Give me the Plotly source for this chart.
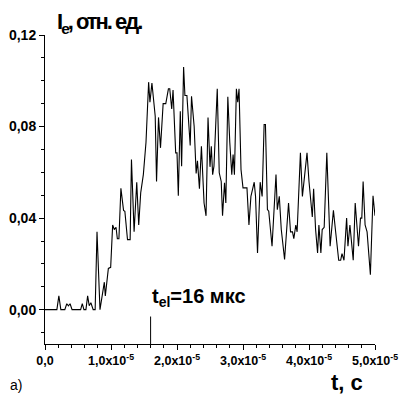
import plotly.graph_objects as go

# time, microseconds
t_us = [0, 1.8, 2.1, 2.4, 3.0, 3.3, 3.55, 3.8, 4.1, 5.4, 5.65, 5.9, 6.2, 6.46, 6.7, 6.95,
        7.3, 7.6, 7.88, 8.33, 8.99, 9.14, 9.6, 9.95, 10.25, 10.5, 10.76, 10.96, 11.2, 11.5,
        11.9, 12.1, 12.5, 12.9, 13.1, 13.5, 13.9, 14.2, 14.5, 14.9, 15.3, 15.7, 15.9, 16.2,
        16.7, 16.9, 17.2, 17.5, 17.9, 18.3, 18.7, 18.9, 19.2, 19.4, 19.8, 20.0, 20.2, 20.5,
        20.7, 21.0, 21.2, 21.5, 22.0, 22.2, 22.6, 22.9, 23.1, 23.4, 23.7, 24.1, 24.4, 24.7,
        25.0, 25.2, 25.4, 25.6, 25.9, 26.1, 26.4, 26.7, 26.9, 27.2, 27.4, 27.7, 28.0, 28.3,
        28.5, 28.7, 29.0, 29.2, 29.4, 29.7, 30.0, 30.6, 30.9, 31.2, 31.7, 31.9, 32.2, 32.6,
        32.9, 33.2, 33.4, 33.7, 33.9, 34.4, 35.0, 35.2, 35.5, 35.8, 36.3, 36.9, 37.2, 37.5,
        37.7, 38.0, 38.2, 38.7, 39.0, 39.4, 39.7, 40.0, 40.5, 40.7, 41.0, 41.3, 41.5, 41.8,
        42.0, 42.3, 42.7, 43.2, 43.7, 44.0, 44.5, 44.8, 45.0, 45.3, 45.7, 45.9, 46.2, 46.7,
        47.0, 47.5, 47.8, 48.0, 48.2, 48.5, 48.8, 49.3, 49.7, 50.0]

intensity = [0, 0, 0.006, 0, 0, 0.0026, 0.0017, 0.0026, 0, 0, 0.0026, 0, 0, 0.006, 0.0017, 0.003,
             0, 0, 0.034, 0, 0.012, 0.006, 0.018, 0.0185, 0.037, 0.035, 0.036, 0.031, 0.031, 0.053,
             0.0434, 0.043, 0.0306, 0.0306, 0.0656, 0.034, 0.0557, 0.037, 0.051, 0.059, 0.073, 0.0994, 0.0906, 0.099,
             0.0845, 0.056, 0.084, 0.0707, 0.090, 0.090, 0.0965, 0.0965, 0.0877, 0.096, 0.0685, 0.0685, 0.0498, 0.0867,
             0.0627, 0.106, 0.0936, 0.0936, 0.0717, 0.0932, 0.080, 0.0595, 0.065, 0.0528, 0.0714, 0.0466, 0.041, 0.084,
             0.0624, 0.0714, 0.059, 0.0627, 0.083, 0.0965, 0.0598, 0.056, 0.041, 0.0554, 0.0466, 0.093, 0.073, 0.059,
             0.0678, 0.059, 0.0965, 0.0906, 0.0965, 0.0612, 0.0532, 0.0532, 0.037, 0.0495, 0.0557, 0.0495, 0.0248, 0.0557,
             0.0495, 0.0809, 0.0809, 0.0437, 0.043, 0.0277, 0.059, 0.0437, 0.0495, 0.035, 0.0219, 0.0466, 0.034, 0.034,
             0.031, 0.037, 0.034, 0.0685, 0.0495, 0.062, 0.0685, 0.056, 0.0405, 0.0528, 0.035, 0.0248, 0.037, 0.0248,
             0.035, 0.036, 0.0685, 0.0277, 0.0434, 0.035, 0.0216, 0.0216, 0.0245, 0.0216, 0.040, 0.0277, 0.037, 0.0216,
             0.0466, 0.0277, 0.040, 0.040, 0.056, 0.037, 0.034, 0.0153, 0.0498, 0.041]

x_tickvals = [0, 1e-5, 2e-5, 3e-5, 4e-5, 5e-5]
x_ticktext = ["0,0", "1,0x10<sup>-5</sup>", "2,0x10<sup>-5</sup>", "3,0x10<sup>-5</sup>",
              "4,0x10<sup>-5</sup>", "5,0x10<sup>-5</sup>"]
y_tickvals = [0, 0.04, 0.08, 0.12]
y_ticktext = ["0,00", "0,04", "0,08", "0,12"]

t_el = 1.6e-5
t_el_marker_top = -0.003

t_s = [v * 1e-6 for v in t_us]

FONT = "Liberation Sans"

fig = go.Figure()
fig.add_trace(go.Scatter(x=t_s, y=intensity, mode="lines",
                         line=dict(color="black", width=1.1), showlegend=False,
                         hoverinfo="skip"))

fig.add_shape(type="line", xref="x", yref="y", x0=t_el, x1=t_el,
              y0=-0.015, y1=t_el_marker_top, line=dict(color="black", width=1))

fig.update_layout(
    width=403, height=407,
    margin=dict(l=45, r=28, t=35, b=63, autoexpand=False),
    paper_bgcolor="white", plot_bgcolor="white",
    font=dict(family=FONT, color="black"),
)

fig.update_xaxes(
    range=[0, 5e-5], showgrid=False, zeroline=False, automargin=False,
    showline=True, linecolor="black", linewidth=1,
    tickmode="array", tickvals=x_tickvals, ticktext=x_ticktext,
    ticks="outside", ticklen=5, tickcolor="black",
    tickfont=dict(family=FONT, size=12.5, weight="bold", color="black"),
    minor=dict(tickmode="linear", tick0=0, dtick=2e-6, ticks="outside",
               ticklen=3, tickcolor="black"),
)
fig.update_yaxes(
    range=[-0.015, 0.12], showgrid=False, zeroline=False, automargin=False,
    showline=True, linecolor="black", linewidth=1,
    tickmode="array", tickvals=y_tickvals, ticktext=y_ticktext,
    ticks="outside", ticklen=5, tickcolor="black",
    tickfont=dict(family=FONT, size=14, weight="bold", color="black"),
    minor=dict(tickmode="linear", tick0=0, dtick=0.01, ticks="outside",
               ticklen=3, tickcolor="black"),
)

ann_font = dict(family=FONT, color="black", weight="bold")
fig.add_annotation(xref="paper", yref="paper", x=0.163, y=1.04,
                   xanchor="center", yanchor="middle", showarrow=False,
                   text="I<sub>e</sub>, отн. ед.", font=dict(ann_font, size=22))
fig.add_annotation(xref="paper", yref="paper", x=0.318, y=0.152,
                   xanchor="left", yanchor="middle", align="left", showarrow=False,
                   text="t<sub>el</sub>=16 мкс", font=dict(ann_font, size=20))
fig.add_annotation(xref="paper", yref="paper", x=0.97, y=-0.126,
                   xanchor="right", yanchor="middle", showarrow=False,
                   text="t, c", font=dict(ann_font, size=22))
fig.add_annotation(xref="paper", yref="paper", x=-0.112, y=-0.133,
                   xanchor="left", yanchor="middle", showarrow=False,
                   text="a)", font=dict(family=FONT, color="black", size=14))

post = (
    "document.body.style.margin='0';"
    "var a=document.querySelectorAll('.annotation-text');"
    "if(a.length){a[0].style.letterSpacing='-2px';}"
)
fig.write_html("out.html", config={"displayModeBar": False}, post_script=post)
